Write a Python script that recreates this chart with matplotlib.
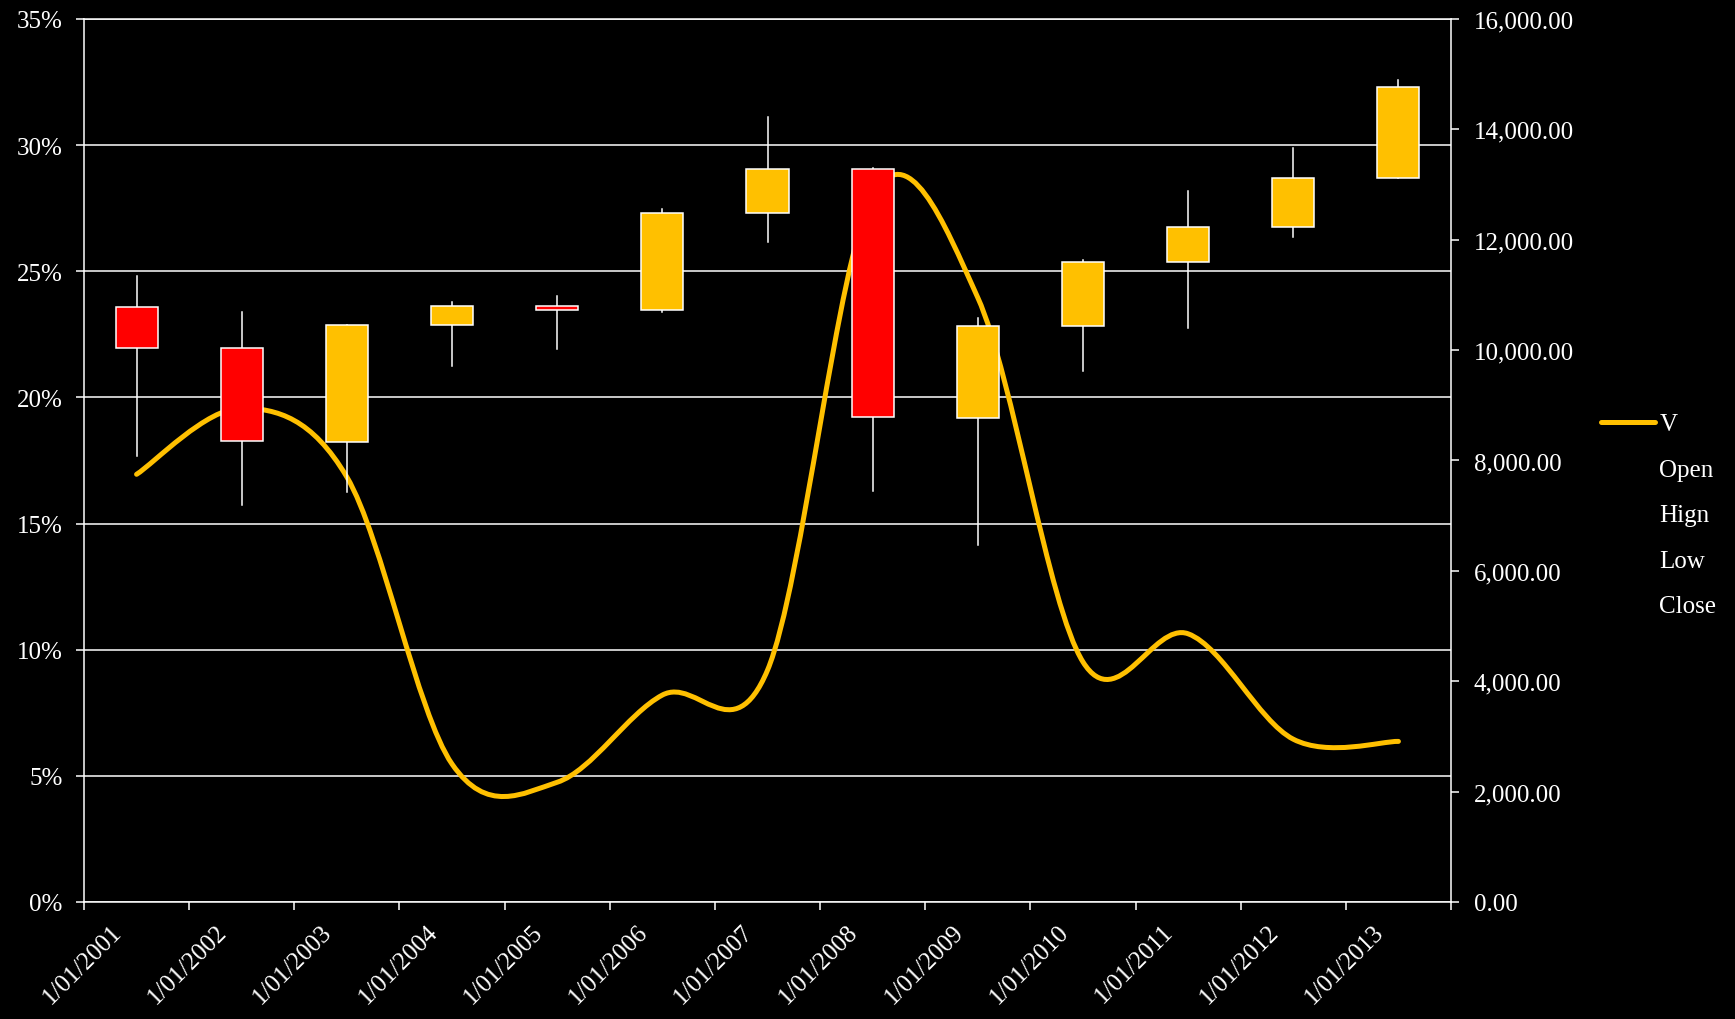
"""Yearly candlesticks (left, %) with the smoothed V series (right axis)."""
import matplotlib
matplotlib.use("Agg")

import matplotlib.pyplot as plt  # noqa: E402
import matplotlib.transforms as mtransforms  # noqa: E402
import numpy as np  # noqa: E402
from matplotlib.lines import Line2D  # noqa: E402
from matplotlib.patches import PathPatch, Rectangle  # noqa: E402
from matplotlib.path import Path  # noqa: E402
from matplotlib.ticker import FuncFormatter  # noqa: E402

DATES = ["1/01/2001", "1/01/2002", "1/01/2003", "1/01/2004", "1/01/2005",
         "1/01/2006", "1/01/2007", "1/01/2008", "1/01/2009", "1/01/2010",
         "1/01/2011", "1/01/2012", "1/01/2013"]
# percent
OPEN = [23.6, 21.95, 18.25, 22.87, 23.62, 23.46, 27.3, 29.04, 19.2, 22.84, 25.35, 26.75, 28.68]
HIGH = [24.82, 23.37, 22.88, 23.79, 24.03, 27.45, 31.1, 29.08, 23.15, 25.43, 28.2, 29.9, 32.59]
LOW = [17.67, 15.75, 16.24, 21.25, 21.9, 23.37, 26.15, 16.3, 14.16, 21.06, 22.75, 26.35, 28.68]
CLOSE = [21.95, 18.26, 22.88, 23.61, 23.45, 27.3, 29.04, 19.21, 22.83, 25.35, 26.75, 28.68, 32.31]
# right axis
V = [7750, 8950, 7700, 2500, 2170, 3750, 4200, 12800, 10950, 4350, 4860, 2950, 2910]
LEGEND = ["V", "Open", "Hign", "Low", "Close"]

_YELLOW = "#FFC000"
_RED = "#FF0000"
_FONT = "Liberation Serif"
_FS = 18
_LW = 1.1


def smooth_path(xs, ys):
    """Cubic Bezier through every point with Catmull-Rom tangents (Excel's smoothed line)."""
    pts = np.column_stack([xs, ys]).astype(float)
    padded = np.vstack([pts[0], pts, pts[-1]])
    verts, codes = [pts[0]], [Path.MOVETO]
    for i in range(len(pts) - 1):
        p0, p1, p2, p3 = padded[i:i + 4]
        verts += [p1 + (p2 - p0) / 6, p2 - (p3 - p1) / 6, p2]
        codes += [Path.CURVE4] * 3
    return Path(verts, codes)


def main():
    plt.rcParams["font.family"] = [_FONT, "DejaVu Serif"]
    fig = plt.figure(figsize=(17.35, 10.2), dpi=100, facecolor="black")
    ax = fig.add_axes([84 / 1735, 117 / 1020, 1367 / 1735, 883 / 1020])
    ax.set_facecolor("black")
    ax2 = ax.twinx()

    x = np.arange(len(DATES))
    ax.set_xlim(-0.5, len(DATES) - 0.5)
    ax.set_ylim(0, 35)
    ax2.set_ylim(0, 16000)

    # V behind the candles but above the grid
    ax.add_patch(PathPatch(smooth_path(x, V), transform=ax2.transData, fill=False,
                           edgecolor=_YELLOW, lw=3.6, capstyle="round", zorder=2))

    for i, o, h, l, c in zip(x, OPEN, HIGH, LOW, CLOSE):
        ax.plot([i, i], [l, h], color="white", lw=_LW, zorder=3)
        ax.add_patch(Rectangle((i - 0.2, min(o, c)), 0.4, abs(c - o),
                               facecolor=_YELLOW if c >= o else _RED,
                               edgecolor="white", lw=_LW, zorder=4))

    ax.set_yticks(np.arange(0, 36, 5))
    ax.yaxis.set_major_formatter(FuncFormatter(lambda v, _: f"{v:.0f}%"))
    ax.yaxis.grid(True, color="white", lw=_LW)
    ax.set_axisbelow(True)

    ax2.set_yticks(np.arange(0, 16001, 2000))
    ax2.yaxis.set_major_formatter(FuncFormatter(lambda v, _: f"{v:,.2f}"))

    ax.tick_params(axis="x", which="major", length=0, pad=0, labelsize=_FS, colors="white")
    ax.tick_params(axis="x", which="minor", length=5.5, width=_LW, color="white")
    ax.tick_params(axis="y", length=5.5, width=_LW, color="white", labelcolor="white",
                   labelsize=_FS, pad=10)
    ax2.tick_params(axis="y", length=5.5, width=_LW, color="white", labelcolor="white",
                    labelsize=_FS, pad=11)

    ax.set_xticks(x)
    ax.set_xticks(np.arange(-0.5, len(DATES), 1), minor=True)
    ax.set_xticklabels(DATES, rotation=45, ha="right", va="center", rotation_mode="anchor")
    # after tick_params, which would reset the label transforms
    shift = mtransforms.ScaledTranslation(-0.18, -0.26, fig.dpi_scale_trans)
    for lab in ax.get_xticklabels():
        lab.set_transform(lab.get_transform() + shift)

    for s in ("left", "bottom", "top"):
        ax.spines[s].set_color("white")
        ax.spines[s].set_linewidth(_LW)
        ax2.spines[s].set_visible(False)
    ax.spines["right"].set_visible(False)
    ax2.spines["right"].set_color("white")
    ax2.spines["right"].set_linewidth(_LW)

    handles = [Line2D([], [], color=_YELLOW, lw=3.6, solid_capstyle="round")]
    handles += [Line2D([], [], color="none") for _ in LEGEND[1:]]
    fig.legend(handles, LEGEND, loc="center left", bbox_to_anchor=(0.910, 0.494),
               frameon=False, handlelength=2.16, handletextpad=0.16, labelspacing=0.92,
               borderpad=0.4, prop={"family": _FONT, "size": _FS}, labelcolor="white")

    fig.savefig("out.png", dpi=100, facecolor="black")


if __name__ == "__main__":
    main()
